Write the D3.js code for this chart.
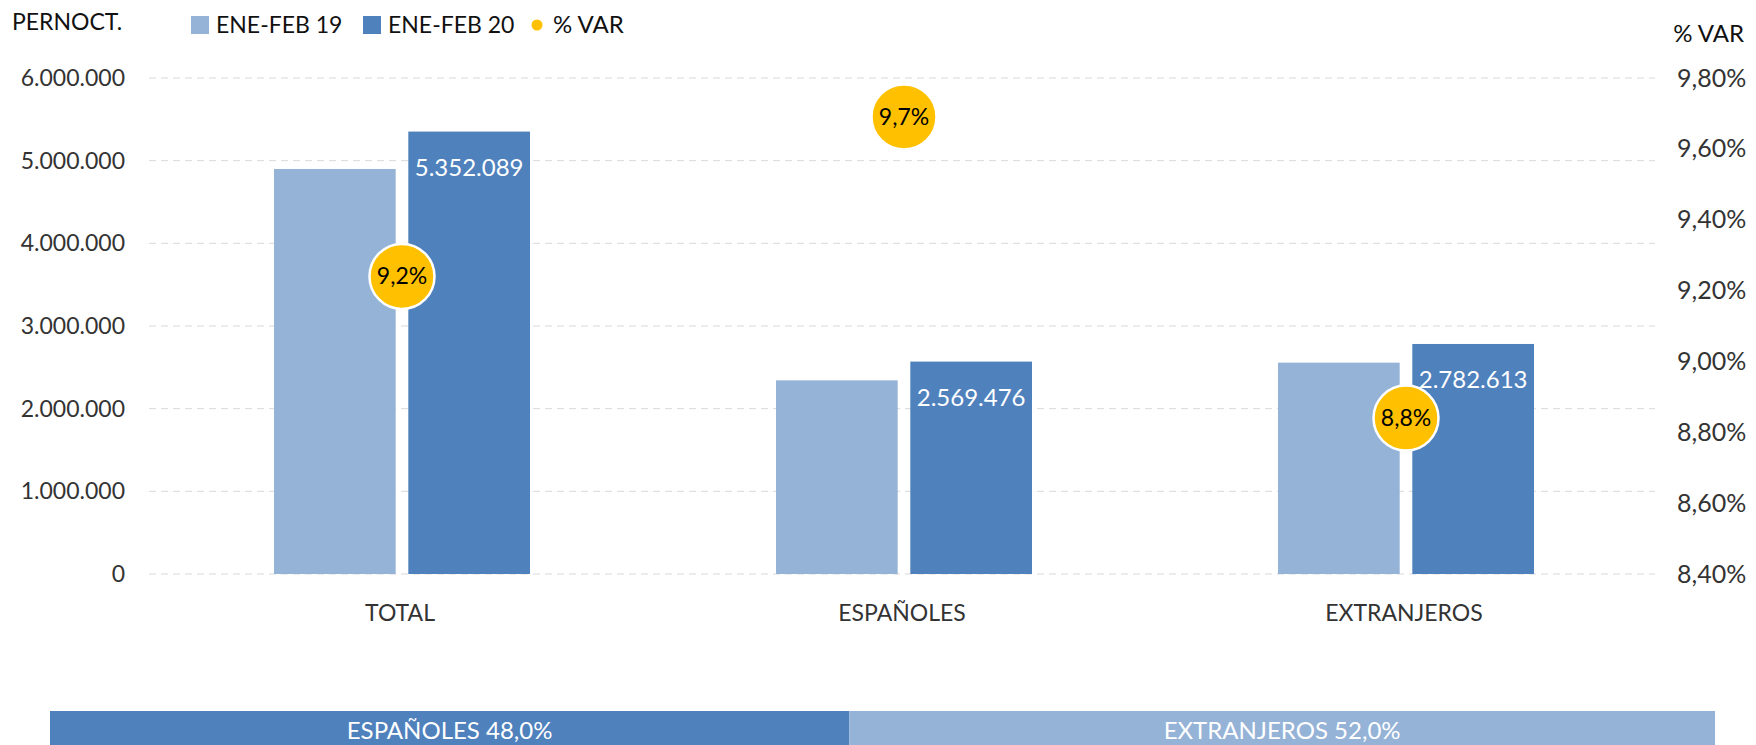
<!DOCTYPE html>
<html>
<head>
<meta charset="utf-8">
<script src="https://cdn.jsdelivr.net/npm/d3@7"></script>
<style>
  body { margin: 0; background: #fff; }
  text { font-family: Lato, "Noto Sans", sans-serif; }
</style>
</head>
<body>
<div id="chart"></div>
<script>
// data
var categories = ["TOTAL", "ESPAÑOLES", "EXTRANJEROS"];
var seriesNames = ["ENE-FEB 19", "ENE-FEB 20"];
var values19 = [4899400, 2342500, 2556600];
var values20 = [5352089, 2569476, 2782613];
var pctVar = [9.24, 9.69, 8.84];
var leftTicks = [0, 1000000, 2000000, 3000000, 4000000, 5000000, 6000000];
var rightTicks = [8.4, 8.6, 8.8, 9.0, 9.2, 9.4, 9.6, 9.8];
var shareLabels = ["ESPAÑOLES", "EXTRANJEROS"];
var shares = [48.0, 52.0];

function init() {
    var svgWidth = 1756;
    var svgHeight = 745;
    var plotLeft = 149, plotRight = 1655;
    var plotTop = 78, plotBottom = 574;

    var lightBlue = "#95b3d7";
    var darkBlue = "#4f81bd";
    var gold = "#ffc000";

    var svg = d3.select("#chart").append("svg")
        .attr("width", svgWidth)
        .attr("height", svgHeight);

    var xScale = d3.scaleBand().domain(categories).range([plotLeft, plotRight]);
    var xInner = d3.scaleBand().domain(seriesNames).range([0, 256]).paddingInner(0.094);
    var yScale = d3.scaleLinear().domain([0, 6000000]).range([plotBottom, plotTop]);
    var y2Scale = d3.scaleLinear().domain([8.4, 9.8]).range([plotBottom, plotTop]);
    var colorScale = d3.scaleOrdinal().domain(seriesNames).range([lightBlue, darkBlue]);

    var fmtInt = function(v) { return d3.format(",")(v).replace(/,/g, "."); };
    var fmtPct2 = function(v) { return d3.format(".2f")(v).replace(".", ",") + "%"; };
    var fmtPct1 = function(v) { return d3.format(".1f")(v).replace(".", ",") + "%"; };

    // gridlines
    svg.append("g").selectAll("line")
        .data(leftTicks)
        .enter().append("line")
        .attr("x1", plotLeft).attr("x2", plotRight)
        .attr("y1", d => yScale(d)).attr("y2", d => yScale(d))
        .attr("stroke", "#d9d9d9")
        .attr("stroke-width", 1)
        .attr("stroke-dasharray", "7,5");

    // left axis
    var yAxis = d3.axisLeft(yScale).tickValues(leftTicks).tickSize(0).tickPadding(0).tickFormat(fmtInt);
    var gy = svg.append("g")
        .attr("transform", "translate(125,0)")
        .call(yAxis);
    gy.select(".domain").remove();
    gy.selectAll("text")
        .attr("font-family", "Lato, sans-serif")
        .attr("font-size", "23px")
        .attr("fill", "#333");

    // right axis
    var y2Axis = d3.axisRight(y2Scale).tickValues(rightTicks).tickSize(0).tickPadding(0).tickFormat(fmtPct2);
    var gy2 = svg.append("g")
        .attr("transform", "translate(1677,0)")
        .call(y2Axis);
    gy2.select(".domain").remove();
    gy2.selectAll("text")
        .attr("font-family", "Lato, sans-serif")
        .attr("font-size", "25px")
        .attr("fill", "#333");

    // bottom axis (category labels)
    var xAxis = d3.axisBottom(xScale).tickSize(0).tickPadding(0);
    var gx = svg.append("g")
        .attr("transform", "translate(0," + 613 + ")")
        .call(xAxis);
    gx.select(".domain").remove();
    gx.selectAll("text")
        .attr("font-family", "Lato, sans-serif")
        .attr("font-size", "23px")
        .attr("fill", "#333")
        .attr("dy", "0.35em");

    // bars
    var rows = categories.map((c, i) => ({ cat: c, vals: [values19[i], values20[i]] }));
    var groups = svg.selectAll("g.bar-group")
        .data(rows)
        .enter().append("g")
        .attr("class", "bar-group")
        .attr("transform", d => "translate(" + (xScale(d.cat) + xScale.bandwidth() / 2 - 126) + ",0)");

    groups.selectAll("rect")
        .data(d => d.vals.map((v, j) => ({ s: seriesNames[j], v: v })))
        .enter().append("rect")
        .attr("x", d => xInner(d.s))
        .attr("y", d => yScale(d.v))
        .attr("width", xInner.bandwidth())
        .attr("height", d => plotBottom - yScale(d.v))
        .attr("fill", d => colorScale(d.s));

    // labels on 2020 bars
    groups.append("text")
        .attr("x", d => xInner(seriesNames[1]) + xInner.bandwidth() / 2)
        .attr("y", d => yScale(d.vals[1]) + 44)
        .attr("text-anchor", "middle")
        .attr("font-size", "24px")
        .attr("fill", "#fff")
        .text(d => fmtInt(d.vals[1]));

    // % var circles
    var dots = svg.selectAll("g.var-dot")
        .data(categories.map((c, i) => ({ cat: c, p: pctVar[i] })))
        .enter().append("g")
        .attr("class", "var-dot")
        .attr("transform", d => "translate(" + (xScale(d.cat) + xScale.bandwidth() / 2 + 2) + "," + y2Scale(d.p) + ")");

    dots.append("circle")
        .attr("r", 32.5)
        .attr("fill", gold)
        .attr("stroke", "#fff")
        .attr("stroke-width", 2.5);

    dots.append("text")
        .attr("y", 8)
        .attr("text-anchor", "middle")
        .attr("font-size", "23px")
        .attr("fill", "#000")
        .text(d => fmtPct1(d.p));

    // axis titles
    svg.append("text")
        .attr("x", 12).attr("y", 30)
        .attr("font-size", "23px")
        .attr("fill", "#111")
        .text("PERNOCT.");

    svg.append("text")
        .attr("x", 1744).attr("y", 42)
        .attr("text-anchor", "end")
        .attr("font-size", "24px")
        .attr("fill", "#111")
        .text("% VAR");

    // legend
    var legend = svg.append("g").attr("transform", "translate(191,25)");
    var legendX = [0, 172];
    seriesNames.forEach((s, i) => {
        legend.append("rect")
            .attr("x", legendX[i]).attr("y", -9)
            .attr("width", 18).attr("height", 18)
            .attr("fill", colorScale(s));
        legend.append("text")
            .attr("x", legendX[i] + 25).attr("y", 8)
            .attr("font-size", "23px")
            .attr("fill", "#111")
            .text(s);
    });
    legend.append("circle")
        .attr("cx", 346).attr("cy", 0)
        .attr("r", 5.5)
        .attr("fill", gold);
    legend.append("text")
        .attr("x", 362).attr("y", 8)
        .attr("font-size", "24px")
        .attr("fill", "#111")
        .text("% VAR");

    // share bar at the bottom
    var shareScale = d3.scaleLinear().domain([0, d3.sum(shares)]).range([50, 1715]);
    var shareColors = [darkBlue, lightBlue];
    var cum = 0;
    var shareRows = shares.map((s, i) => {
        var r = { label: shareLabels[i], v: s, start: cum };
        cum += s;
        return r;
    });

    var segs = svg.selectAll("g.share")
        .data(shareRows)
        .enter().append("g")
        .attr("class", "share");

    segs.append("rect")
        .attr("x", d => shareScale(d.start))
        .attr("y", 711)
        .attr("width", d => shareScale(d.start + d.v) - shareScale(d.start))
        .attr("height", 40)
        .attr("fill", (d, i) => shareColors[i]);

    segs.append("text")
        .attr("x", d => (shareScale(d.start) + shareScale(d.start + d.v)) / 2)
        .attr("y", 739)
        .attr("text-anchor", "middle")
        .attr("font-size", "24px")
        .attr("fill", "#fff")
        .text(d => d.label + " " + fmtPct1(d.v));
}
window.onload = init;
</script>
</body>
</html>
